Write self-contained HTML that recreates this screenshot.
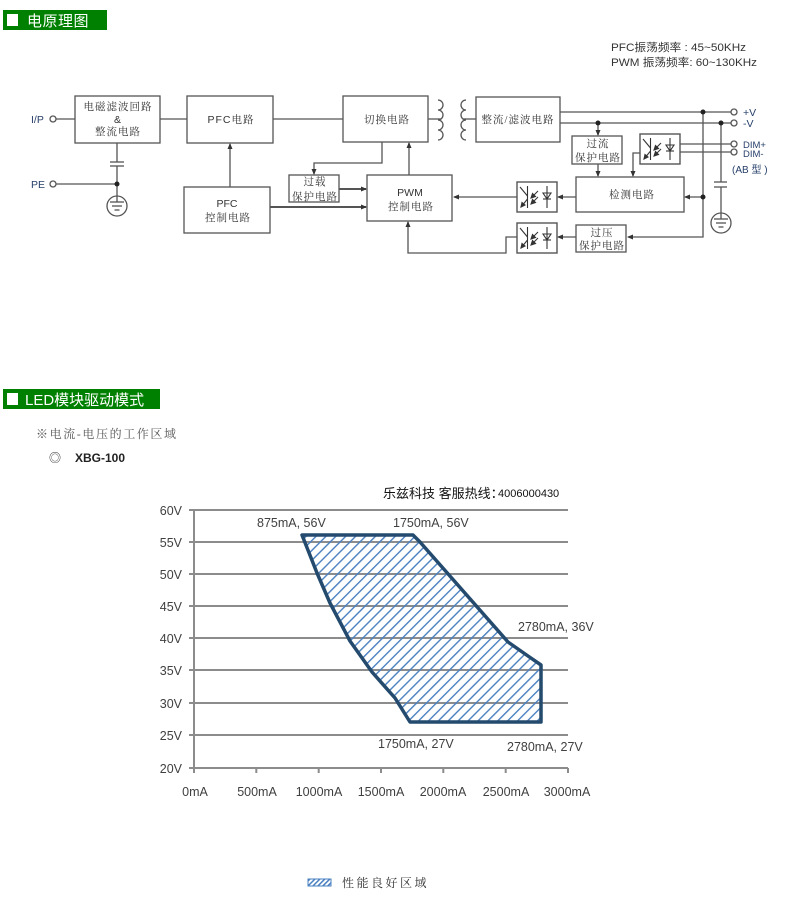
<!DOCTYPE html>
<html><head><meta charset="utf-8"><style>
html,body{margin:0;padding:0;background:#fff;}
svg{display:block;}
.s{font-family:"Liberation Sans","Noto Sans CJK SC",sans-serif;}
.c{font-family:"Liberation Serif","Noto Serif CJK SC",serif;}
</style></head><body>
<svg width="798" height="908" viewBox="0 0 798 908" xmlns="http://www.w3.org/2000/svg">
<defs>
<marker id="ar" markerWidth="6" markerHeight="6" refX="5" refY="3" orient="auto" markerUnits="userSpaceOnUse">
<path d="M0,0.5 L6,3 L0,5.5 z" fill="#333"/></marker>
<pattern id="hatch" patternUnits="userSpaceOnUse" width="8" height="7" patternTransform="rotate(-45)">
<rect x="0" y="0" width="8" height="1.4" fill="#4a80c0"/></pattern>
<pattern id="hatch2" patternUnits="userSpaceOnUse" width="8" height="3.5" patternTransform="rotate(-45)">
<rect x="0" y="0" width="8" height="1.5" fill="#4a80c0"/></pattern>
<g id="opto" fill="none" stroke="#333" stroke-width="1.1">
<rect x="0" y="0" width="40" height="30" fill="#fff" stroke="#555" stroke-width="1.4"/>
<line x1="10.5" y1="4" x2="10.5" y2="26"/>
<line x1="3" y1="5" x2="10.5" y2="14"/>
<line x1="10.5" y1="17" x2="4" y2="25"/>
<path d="M4,25 l1,-4.5 l3,2.5 z" fill="#333"/>
<line x1="21" y1="9" x2="15" y2="15"/>
<path d="M14,16 l1.5,-4.5 l3,3 z" fill="#333"/>
<line x1="21" y1="15" x2="15" y2="21"/>
<path d="M14,22 l1.5,-4.5 l3,3 z" fill="#333"/>
<line x1="30" y1="4" x2="30" y2="26"/>
<path d="M26,11 L34,11 L30,17 z"/>
<line x1="26" y1="17" x2="34" y2="17"/>
</g>
</defs>

<!-- header 1 -->
<rect x="3" y="10" width="104" height="20" fill="#008000"/>
<rect x="7" y="14" width="11" height="12" fill="#fff"/>
<text x="27" y="26" class="s" font-size="15" fill="#fff" letter-spacing="0.5">电原理图</text>

<!-- frequency text -->
<text x="611" y="51" class="s" font-size="11" fill="#333" textLength="135" lengthAdjust="spacingAndGlyphs">PFC振荡频率 : 45~50KHz</text>
<text x="611" y="66" class="s" font-size="11" fill="#333" textLength="146" lengthAdjust="spacingAndGlyphs">PWM 振荡频率: 60~130KHz</text>

<!-- block diagram -->
<g fill="none" stroke="#555" stroke-width="1.3">
<rect x="75" y="96" width="85" height="47"/>
<rect x="187" y="96" width="86" height="47"/>
<rect x="343" y="96" width="85" height="46"/>
<rect x="476" y="97" width="84" height="45"/>
<rect x="184" y="187" width="86" height="46"/>
<rect x="289" y="175" width="50" height="27"/>
<rect x="367" y="175" width="85" height="46"/>
<rect x="572" y="136" width="50" height="28"/>
<rect x="576" y="177" width="108" height="35"/>
<rect x="576" y="225" width="50" height="27"/>

<!-- I/P -->
<circle cx="53" cy="119" r="3"/>
<line x1="56" y1="119" x2="75" y2="119"/>
<line x1="160" y1="119" x2="187" y2="119"/>
<line x1="273" y1="119" x2="343" y2="119"/>
<line x1="428" y1="119" x2="441" y2="119"/>
<line x1="463" y1="119" x2="476" y2="119"/>
<!-- coils -->
<path d="M438,100 a5,5 0 0 1 0,10 a5,5 0 0 1 0,10 a5,5 0 0 1 0,10 a5,5 0 0 1 0,10"/>
<path d="M466,100 a5,5 0 0 0 0,10 a5,5 0 0 0 0,10 a5,5 0 0 0 0,10 a5,5 0 0 0 0,10"/>

<!-- PE / cap / ground -->
<line x1="117" y1="143" x2="117" y2="162"/>
<line x1="110" y1="162" x2="124" y2="162"/>
<line x1="110" y1="166" x2="124" y2="166"/>
<line x1="117" y1="166" x2="117" y2="202"/>
<circle cx="53" cy="184" r="3"/>
<line x1="56" y1="184" x2="117" y2="184"/>
<circle cx="117" cy="206" r="10"/>
<line x1="110" y1="202" x2="124" y2="202"/>
<line x1="112" y1="206" x2="122" y2="206"/>
<line x1="114.5" y1="210" x2="119.5" y2="210"/>

<!-- PFC control up -->
<line x1="230" y1="187" x2="230" y2="144" marker-end="url(#ar)"/>
<line x1="270" y1="207" x2="366" y2="207" stroke-width="2" marker-end="url(#ar)"/>
<polyline points="382,142 382,163 314,163 314,174" marker-end="url(#ar)"/>
<line x1="339" y1="189" x2="366" y2="189" stroke-width="2" marker-end="url(#ar)"/>
<line x1="409" y1="175" x2="409" y2="143" marker-end="url(#ar)"/>

<!-- outputs -->
<line x1="560" y1="112" x2="731" y2="112"/>
<line x1="560" y1="123" x2="731" y2="123"/>
<circle cx="734" cy="112" r="3"/>
<circle cx="734" cy="123" r="3"/>
<line x1="598" y1="123" x2="598" y2="135" marker-end="url(#ar)"/>
<line x1="598" y1="164" x2="598" y2="176" marker-end="url(#ar)"/>
<polyline points="703,112 703,237 628,237" marker-end="url(#ar)"/>
<line x1="703" y1="197" x2="685" y2="197" marker-end="url(#ar)"/>
<line x1="721" y1="123" x2="721" y2="182"/>
<line x1="714" y1="182" x2="727" y2="182"/>
<line x1="714" y1="187" x2="727" y2="187"/>
<line x1="721" y1="187" x2="721" y2="219"/>
<circle cx="721" cy="223" r="10"/>
<line x1="714" y1="219" x2="728" y2="219"/>
<line x1="716" y1="223" x2="726" y2="223"/>
<line x1="718.5" y1="227" x2="723.5" y2="227"/>

<!-- DIM -->
<line x1="680" y1="144" x2="731" y2="144"/>
<line x1="680" y1="152" x2="731" y2="152"/>
<circle cx="734" cy="144" r="3"/>
<circle cx="734" cy="152" r="3"/>
<polyline points="640,153 633,153 633,176" marker-end="url(#ar)"/>

<line x1="576" y1="197" x2="558" y2="197" marker-end="url(#ar)"/>
<line x1="517" y1="197" x2="454" y2="197" marker-end="url(#ar)"/>
<line x1="576" y1="237" x2="558" y2="237" marker-end="url(#ar)"/>
<polyline points="517,237 506,237 506,253 408,253 408,222" marker-end="url(#ar)"/>
</g>
<g fill="#222">
<circle cx="117" cy="184" r="2.5"/>
<circle cx="598" cy="123" r="2.5"/>
<circle cx="703" cy="112" r="2.5"/>
<circle cx="721" cy="123" r="2.5"/>
<circle cx="703" cy="197" r="2.5"/>
</g>
<use href="#opto" x="640" y="134"/>
<use href="#opto" x="517" y="182"/>
<use href="#opto" x="517" y="223"/>

<!-- diagram labels -->
<g class="s" font-size="10.5" fill="#263f6a">
<text x="31" y="123">I/P</text>
<text x="31" y="188">PE</text>
<text x="743" y="116">+V</text>
<text x="743" y="127">-V</text>
<text x="743" y="148" font-size="9.5">DIM+</text>
<text x="743" y="157" font-size="9.5">DIM-</text>
<text x="732" y="173" font-size="10">(AB 型 )</text>
</g>
<g class="c" font-size="10.5" fill="#333" text-anchor="middle" letter-spacing="1">
<text x="118" y="110">电磁滤波回路</text>
<text x="118" y="123" class="s">&amp;</text>
<text x="118" y="135">整流电路</text>
<text x="231" y="123"><tspan class="s">PFC</tspan>电路</text>
<text x="387" y="123">切换电路</text>
<text x="518" y="123">整流/滤波电路</text>
<text x="227" y="207" class="s" letter-spacing="0">PFC</text>
<text x="228" y="221">控制电路</text>
<text x="315" y="185">过载</text>
<text x="315" y="200">保护电路</text>
<text x="410" y="196" class="s" letter-spacing="0">PWM</text>
<text x="411" y="210">控制电路</text>
<text x="598" y="147">过流</text>
<text x="598" y="161">保护电路</text>
<text x="632" y="198">检测电路</text>
<text x="602" y="236">过压</text>
<text x="602" y="249">保护电路</text>
</g>

<!-- header 2 -->
<rect x="3" y="389" width="157" height="20" fill="#008000"/>
<rect x="7" y="393" width="11" height="12" fill="#fff"/>
<text x="25" y="405" class="s" font-size="15" fill="#fff">LED模块驱动模式</text>

<text x="36" y="438" class="c" font-size="12" fill="#555" letter-spacing="1.6">※电流-电压的工作区域</text>
<text x="49" y="462" class="s" font-size="12" fill="#333">◎</text>
<text x="75" y="462" class="s" font-size="12" font-weight="bold" fill="#222">XBG-100</text>

<!-- chart title -->
<text x="383" y="498" class="s" font-size="13" fill="#111">乐兹科技 客服热线：</text>
<text x="498" y="497" class="s" font-size="11" fill="#111">4006000430</text>

<!-- grid -->
<g stroke="#8c8c8c" stroke-width="2">
<line x1="189" y1="510" x2="568" y2="510"/>
<line x1="189" y1="542" x2="568" y2="542"/>
<line x1="189" y1="574" x2="568" y2="574"/>
<line x1="189" y1="606" x2="568" y2="606"/>
<line x1="189" y1="638" x2="568" y2="638"/>
<line x1="189" y1="670" x2="568" y2="670"/>
<line x1="189" y1="703" x2="568" y2="703"/>
<line x1="189" y1="735" x2="568" y2="735"/>
<line x1="189" y1="768" x2="568" y2="768"/>
<line x1="194" y1="510" x2="194" y2="773"/>
<line x1="256.3" y1="768" x2="256.3" y2="773"/>
<line x1="318.7" y1="768" x2="318.7" y2="773"/>
<line x1="381" y1="768" x2="381" y2="773"/>
<line x1="443.3" y1="768" x2="443.3" y2="773"/>
<line x1="505.7" y1="768" x2="505.7" y2="773"/>
<line x1="568" y1="768" x2="568" y2="773"/>
</g>
<g class="s" font-size="12.5" fill="#404040" text-anchor="end">
<text x="182" y="515">60V</text>
<text x="182" y="547">55V</text>
<text x="182" y="579">50V</text>
<text x="182" y="611">45V</text>
<text x="182" y="643">40V</text>
<text x="182" y="675">35V</text>
<text x="182" y="708">30V</text>
<text x="182" y="740">25V</text>
<text x="182" y="773">20V</text>
</g>
<g class="s" font-size="12.5" fill="#404040" text-anchor="middle">
<text x="195" y="796">0mA</text>
<text x="257" y="796">500mA</text>
<text x="319" y="796">1000mA</text>
<text x="381" y="796">1500mA</text>
<text x="443" y="796">2000mA</text>
<text x="506" y="796">2500mA</text>
<text x="567" y="796">3000mA</text>
</g>

<!-- region -->
<polygon points="302,535 413,535 420,542 508,642 528,656 541,665 541,722 410,722 395,698 372,672 350,641 330,603 317,573"
 fill="url(#hatch)" stroke="#244a6e" stroke-width="3.5" stroke-linejoin="round"/>

<g class="s" font-size="12.5" fill="#404040">
<text x="257" y="527">875mA, 56V</text>
<text x="393" y="527">1750mA, 56V</text>
<text x="518" y="631">2780mA, 36V</text>
<text x="378" y="748">1750mA, 27V</text>
<text x="507" y="751">2780mA, 27V</text>
</g>

<!-- legend -->
<rect x="308" y="879" width="23" height="7" fill="url(#hatch2)" stroke="#4a80c0" stroke-width="1"/>
<text x="342" y="887" class="c" font-size="12" fill="#333" letter-spacing="2.5">性能良好区域</text>
</svg>
</body></html>
